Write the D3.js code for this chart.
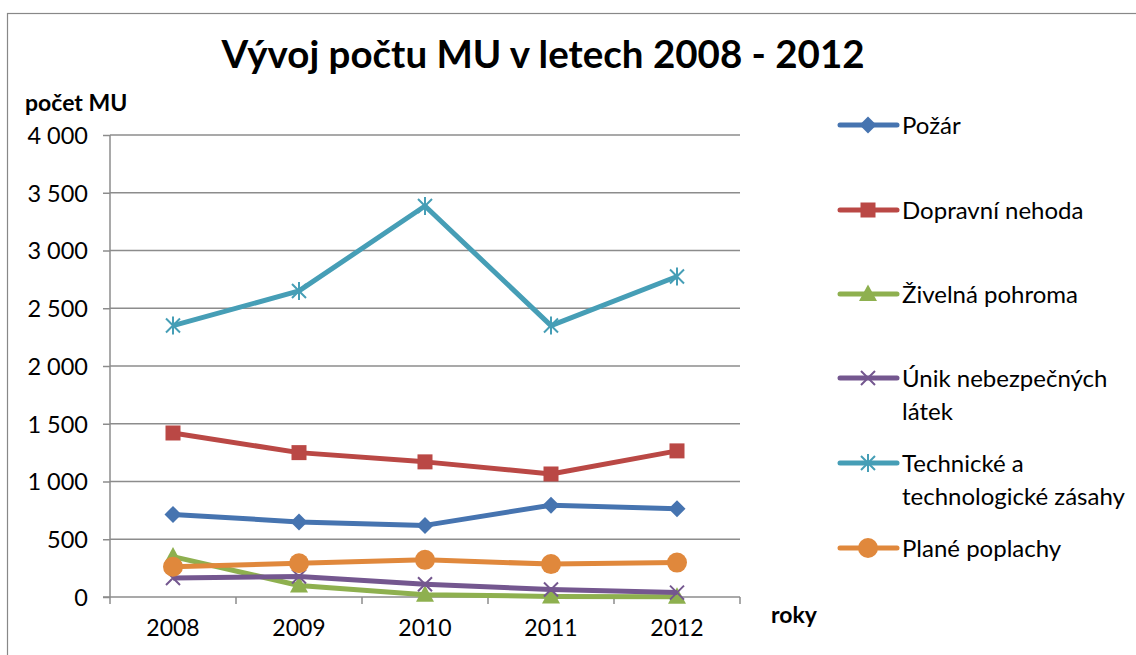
<!DOCTYPE html>
<html>
<head>
<meta charset="utf-8">
<script src="https://cdn.jsdelivr.net/npm/d3@7"></script>
<style>
  body { margin: 0; background: #fff; }
  svg text { font-family: Lato, "Noto Sans", sans-serif; fill: #000; }
</style>
</head>
<body>
<div id="chart"></div>
<script>
// data
var years = ['2008', '2009', '2010', '2011', '2012'];
var pozar = [715, 650, 620, 795, 765];
var dopravni = [1420, 1250, 1170, 1065, 1265];
var zivelna = [350, 100, 20, 5, 2];
var unik = [165, 178, 110, 65, 38];
var technicke = [2350, 2650, 3385, 2350, 2775];
var plane = [262, 292, 322, 285, 298];
var yTicks = [0, 500, 1000, 1500, 2000, 2500, 3000, 3500, 4000];

var series = [
    {name: ['Požár'], values: pozar, color: '#4674B0', marker: 'diamond'},
    {name: ['Dopravní nehoda'], values: dopravni, color: '#BA4845', marker: 'square'},
    {name: ['Živelná pohroma'], values: zivelna, color: '#8EB04F', marker: 'triangle'},
    {name: ['Únik nebezpečných', 'látek'], values: unik, color: '#74578F', marker: 'cross'},
    {name: ['Technické a', 'technologické zásahy'], values: technicke, color: '#469EB6', marker: 'star'},
    {name: ['Plané poplachy'], values: plane, color: '#E0883C', marker: 'circle'}
];
var legendY = [125, 210, 294, 378, 463, 548];

var W = 1136, H = 655;
var margin = {top: 135, left: 110, right: 396, bottom: 58};

var svg = d3.select('#chart').append('svg')
    .attr('width', W)
    .attr('height', H);

// outer chart frame
svg.append('rect')
    .attr('x', 7.5).attr('y', 13.5)
    .attr('width', W).attr('height', H)
    .attr('fill', 'none')
    .attr('stroke', '#888').attr('stroke-width', 1.2);

var xScale = d3.scaleBand().domain(years).range([margin.left, W - margin.right]),
    yScale = d3.scaleLinear().domain([0, 4000]).range([H - margin.bottom, margin.top]);

var fmt = function (d) { return d3.format(',')(d).replace(',', ' '); };

// gridlines
svg.append('g')
    .selectAll('line')
    .data(yTicks.slice(1))
    .enter().append('line')
    .attr('x1', margin.left).attr('x2', W - margin.right)
    .attr('y1', function (d) { return yScale(d); })
    .attr('y2', function (d) { return yScale(d); })
    .attr('stroke', '#8c8c8c').attr('stroke-width', 1.5);

// y axis
var yAxis = svg.append('g')
    .attr('transform', 'translate(' + margin.left + ',0)')
    .call(d3.axisLeft(yScale).tickValues(yTicks).tickFormat(fmt).tickSize(7).tickPadding(15));
yAxis.selectAll('line, path').attr('stroke', '#8c8c8c').attr('stroke-width', 1.5);
yAxis.select('.domain').attr('d', 'M0,' + yScale(4000) + 'V' + yScale(0));
yAxis.selectAll('text').style('font-size', '23.5px').attr('dy', '0.36em');

// x axis with ticks between categories
var xAxis = svg.append('g')
    .attr('transform', 'translate(0,' + yScale(0) + ')');
xAxis.append('line')
    .attr('x1', margin.left - 7).attr('x2', W - margin.right)
    .attr('stroke', '#8c8c8c').attr('stroke-width', 1.5);
xAxis.selectAll('.tk')
    .data(years.concat(['end']))
    .enter().append('line')
    .attr('class', 'tk')
    .attr('x1', function (d, i) { return margin.left + i * xScale.bandwidth(); })
    .attr('x2', function (d, i) { return margin.left + i * xScale.bandwidth(); })
    .attr('y1', 0).attr('y2', 7)
    .attr('stroke', '#8c8c8c').attr('stroke-width', 1.5);
xAxis.selectAll('text')
    .data(years)
    .enter().append('text')
    .attr('x', function (d) { return xScale(d) + xScale.bandwidth() / 2; })
    .attr('y', 39)
    .attr('text-anchor', 'middle')
    .style('font-size', '23px')
    .text(function (d) { return d; });

function drawMarker(g, type, color) {
    if (type === 'diamond') {
        g.append('path').attr('d', 'M0,-8.5L8.5,0L0,8.5L-8.5,0Z').attr('fill', color);
    } else if (type === 'square') {
        g.append('rect').attr('x', -7.5).attr('y', -7.5).attr('width', 15).attr('height', 15).attr('fill', color);
    } else if (type === 'triangle') {
        g.append('path').attr('d', 'M0,-9.5L9,7L-9,7Z').attr('fill', color);
    } else if (type === 'cross') {
        g.append('path').attr('d', 'M-7,-7L7,7M-7,7L7,-7').attr('stroke', color).attr('stroke-width', 2);
    } else if (type === 'star') {
        g.append('path').attr('d', 'M-7,-7L7,7M-7,7L7,-7M0,-9V9').attr('stroke', color).attr('stroke-width', 2);
    } else if (type === 'circle') {
        g.append('circle').attr('r', 10).attr('fill', color);
    }
}

var line = d3.line()
    .x(function (d, i) { return xScale(years[i]) + xScale.bandwidth() / 2; })
    .y(function (d) { return yScale(d); });

series.forEach(function (s) {
    var g = svg.append('g');
    g.append('path')
        .datum(s.values)
        .attr('d', line)
        .attr('fill', 'none')
        .attr('stroke', s.color)
        .attr('stroke-width', 5)
        .attr('stroke-linejoin', 'round');
    s.values.forEach(function (v, i) {
        var m = g.append('g')
            .attr('transform', 'translate(' + (xScale(years[i]) + xScale.bandwidth() / 2) + ',' + yScale(v) + ')');
        drawMarker(m, s.marker, s.color);
    });
});

// legend
series.forEach(function (s, i) {
    var lg = svg.append('g').attr('transform', 'translate(0,' + legendY[i] + ')');
    lg.append('line')
        .attr('x1', 840).attr('x2', 897)
        .attr('stroke', s.color).attr('stroke-width', 5).attr('stroke-linecap', 'round');
    var m = lg.append('g').attr('transform', 'translate(868,0)');
    drawMarker(m, s.marker, s.color);
    s.name.forEach(function (t, j) {
        lg.append('text')
            .attr('x', 902).attr('y', j * 33)
            .attr('dy', '0.36em')
            .style('font-size', '24px')
            .text(t);
    });
});

// titles
svg.append('text')
    .attr('x', 543).attr('y', 68)
    .attr('text-anchor', 'middle')
    .style('font-size', '38.5px').style('font-weight', 'bold')
    .text('Vývoj počtu MU v letech 2008 - 2012');
svg.append('text')
    .attr('x', 25).attr('y', 111)
    .style('font-size', '23px').style('font-weight', 'bold')
    .text('počet MU');
svg.append('text')
    .attr('x', 771).attr('y', 623)
    .style('font-size', '23px').style('font-weight', 'bold')
    .text('roky');
</script>
</body>
</html>
